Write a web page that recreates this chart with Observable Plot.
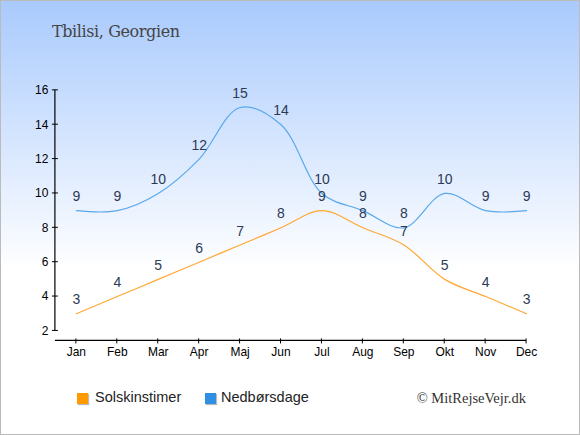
<!DOCTYPE html>
<html><head><meta charset="utf-8">
<script src="https://cdn.jsdelivr.net/npm/d3@7"></script>
<script src="https://cdn.jsdelivr.net/npm/@observablehq/plot@0.6"></script>
<style>
html,body{margin:0;padding:0;}
#wrap{position:relative;width:578px;height:433px;border:1px solid #bbb;background:linear-gradient(to bottom,#a9cafd 0%,#ffffff 62%,#ffffff 100%);overflow:hidden;font-family:"Liberation Sans",Arial,sans-serif;}
#title{position:absolute;left:51px;top:21px;font-family:"DejaVu Serif",serif;font-size:16px;letter-spacing:-0.4px;color:#444;}
#chart{position:absolute;left:-1px;top:-1px;}
.leg{position:absolute;top:388px;font-size:14.5px;color:#222;}
.sq{position:absolute;top:392px;width:11px;height:11px;}
#credit{position:absolute;right:53px;top:389px;font-family:"Liberation Serif",serif;font-size:14.5px;color:#333;}
</style></head>
<body>
<div id="wrap">
<div id="title">Tbilisi, Georgien</div>
<div id="chart"></div>
<div class="sq" style="left:76px;background:#ff9a00;box-shadow:1px 1px 1px #bbb"></div>
<div class="leg" style="left:94px">Solskinstimer</div>
<div class="sq" style="left:204px;background:#2e8fe3;box-shadow:1px 1px 1px #bbb"></div>
<div class="leg" style="left:220px">Nedbørsdage</div>
<div id="credit">© MitRejseVejr.dk</div>
</div>
<script>
const months = ["Jan","Feb","Mar","Apr","Maj","Jun","Jul","Aug","Sep","Okt","Nov","Dec"];
const sunHours = [3,4,5,6,7,8,9,8,7,5,4,3];
const rainDays = [9,9,10,12,15,14,10,9,8,10,9,9];
const yTicks = [2,4,6,8,10,12,14,16];

const sun = months.map((m,i)=>({month:m,value:sunHours[i]}));
const rain = months.map((m,i)=>({month:m,value:rainDays[i]}));

const axisLines = (index, scales, values, dims) => {
  const g = d3.create("svg:g");
  const x0 = dims.marginLeft, x1 = scales.x(months[months.length-1]);
  const yb = dims.height - dims.marginBottom;
  g.append("line").attr("x1", x0).attr("x2", x1).attr("y1", yb).attr("y2", yb).attr("stroke","#000").attr("stroke-width",1.2);
  g.append("line").attr("x1", x0).attr("x2", x0).attr("y1", scales.y(yTicks[0])).attr("y2", scales.y(yTicks[yTicks.length-1])).attr("stroke","#000").attr("stroke-width",1.2);
  for (const m of months) {
    const x = scales.x(m);
    g.append("line").attr("x1", x).attr("x2", x).attr("y1", yb - 2).attr("y2", yb + 3).attr("stroke","#000");
  }
  for (const t of yTicks) {
    const y = scales.y(t);
    g.append("line").attr("x1", x0 - 3).attr("x2", x0 + 3).attr("y1", y).attr("y2", y).attr("stroke","#000");
  }
  return g.node();
};

const plot = Plot.plot({
  width: 580, height: 435,
  marginTop: 90, marginBottom: 94, marginLeft: 55, marginRight: 54,
  style: {background: "transparent", fontFamily: "Liberation Sans, Arial, sans-serif", fontSize: "12px", overflow: "visible"},
  x: {type: "point", domain: months, range: [75, 527], padding: 0},
  y: {domain: [2, 16], range: [331, 90]},
  marks: [
    Plot.axisY({ticks: yTicks, anchor: "left", tickSize: 0, tickPadding: 7, fontSize: 12, fill: "#000", label: null}),
    Plot.axisX({anchor: "bottom", tickSize: 0, tickPadding: 7, fontSize: 12, fill: "#000", label: null}),
    axisLines,
    Plot.line(sun, {x: "month", y: "value", stroke: "#ffa733", strokeWidth: 1.2, curve: "catmull-rom"}),
    Plot.line(rain, {x: "month", y: "value", stroke: "#58a9ec", strokeWidth: 1.2, curve: "catmull-rom"}),
    Plot.text(sun, {x: "month", y: "value", text: "value", dy: -14, fontSize: 14, fill: "#2b3a55"}),
    Plot.text(rain, {x: "month", y: "value", text: "value", dy: -14, fontSize: 14, fill: "#2b3a55"})
  ]
});
document.getElementById("chart").appendChild(plot);
</script>
</body></html>
